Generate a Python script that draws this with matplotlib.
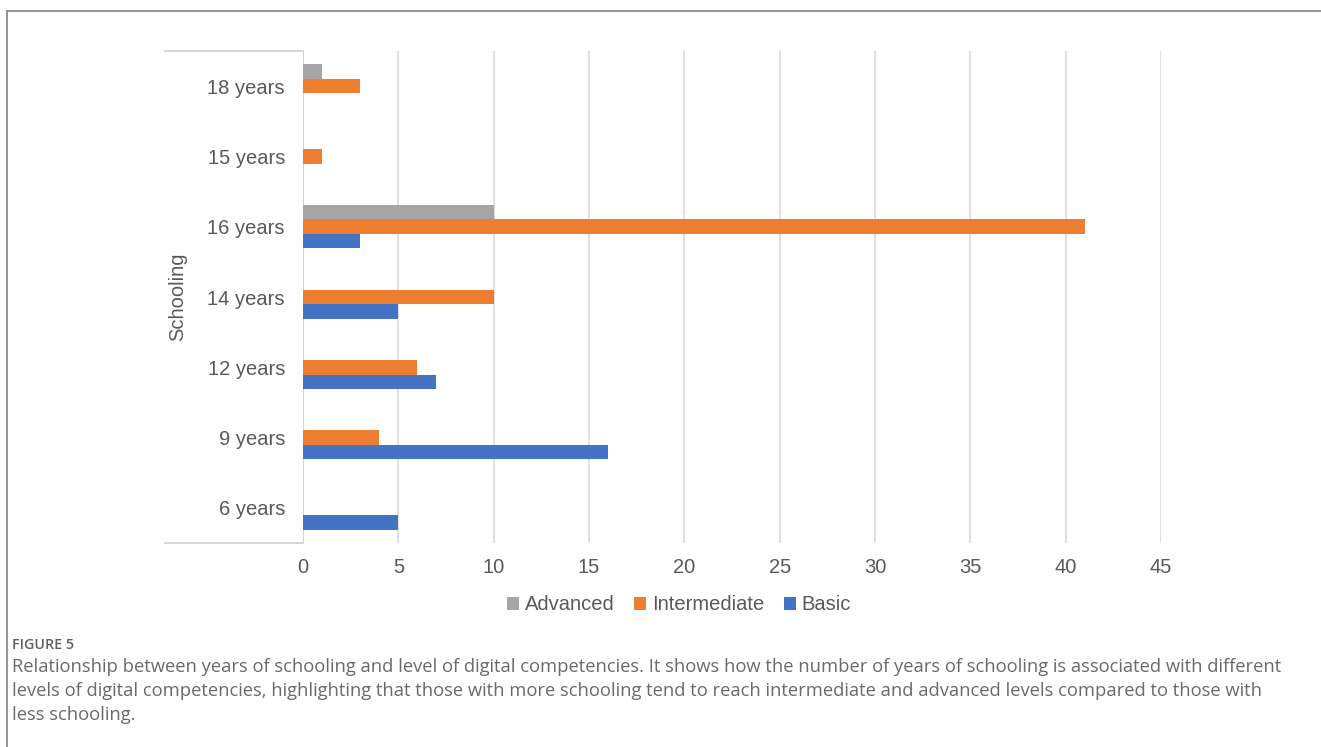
import matplotlib
matplotlib.use("Agg")
import matplotlib.pyplot as plt
from matplotlib.lines import Line2D
from matplotlib.patches import Patch
import numpy as np

# Schooling levels (bottom to top, as drawn)
categories = ["6 years", "9 years", "12 years", "14 years", "16 years", "15 years", "18 years"]
basic = [5, 16, 7, 5, 3, 0, 0]
intermediate = [0, 4, 6, 10, 41, 1, 3]
advanced = [0, 0, 0, 0, 10, 0, 1]
x_ticks = [0, 5, 10, 15, 20, 25, 30, 35, 40, 45]

caption_title = "FIGURE 5"
caption_lines = [
    "Relationship between years of schooling and level of digital competencies. It shows how the number of years of schooling is associated with different",
    "levels of digital competencies, highlighting that those with more schooling tend to reach intermediate and advanced levels compared to those with",
    "less schooling.",
]

W, H = 1321, 747
fig = plt.figure(figsize=(W / 100, H / 100), dpi=100)


def fx(px):
    return px / W


def fy(py):
    return 1 - py / H


C_ADV = "#A5A5A5"
C_INT = "#ED7D31"
C_BAS = "#4472C4"
TXT = "#595959"
GRID = "#D9D9D9"
FS = 14.5

ax = fig.add_axes([fx(303), fy(543), fx(1161) - fx(303), fy(51) - fy(543)])

y = np.arange(len(categories))
h = 0.206
ax.barh(y + h, advanced, height=h, color=C_ADV, linewidth=0, zorder=3, label="Advanced")
ax.barh(y, intermediate, height=h, color=C_INT, linewidth=0, zorder=3, label="Intermediate")
ax.barh(y - h, basic, height=h, color=C_BAS, linewidth=0, zorder=3, label="Basic")

ax.set_xlim(0, 45)
ax.set_ylim(-0.5, len(categories) - 0.5)
ax.set_xticks(x_ticks)
ax.set_yticks(y)
ax.set_yticklabels(categories)
ax.xaxis.grid(True, color=GRID, linewidth=1.2, zorder=0)
ax.set_axisbelow(True)
for s in ax.spines.values():
    s.set_visible(False)
ax.axvline(0, color="#D0D0D0", linewidth=1.2, zorder=2)
ax.tick_params(axis="both", length=0, labelsize=FS, labelcolor=TXT)
ax.tick_params(axis="y", pad=13)
ax.tick_params(axis="x", pad=11)
for lab in ax.get_xticklabels() + ax.get_yticklabels():
    lab.set_fontfamily("Liberation Sans")

# bracket lines around the category label area
for py in (51, 543):
    fig.add_artist(Line2D([fx(165), fx(303)], [fy(py), fy(py)], transform=fig.transFigure,
                          color="#D0D0D0", linewidth=1.2))

fig.text(fx(178), fy(297), "Schooling", rotation=90, ha="center", va="center",
         fontsize=FS, color=TXT, family="Liberation Sans")

handles = [Patch(facecolor=C_ADV, label="Advanced"),
           Patch(facecolor=C_INT, label="Intermediate"),
           Patch(facecolor=C_BAS, label="Basic")]
fig.legend(handles=handles, loc="center", bbox_to_anchor=(fx(679), fy(605)), ncol=3,
           frameon=False, handlelength=0.6, handleheight=0.6, handletextpad=0.3,
           columnspacing=0.95, prop={"family": "Liberation Sans", "size": FS},
           labelcolor=TXT)

# outer frame (top and left edges)
fig.add_artist(Line2D([fx(7), fx(1321)], [fy(11), fy(11)], transform=fig.transFigure,
                      color="#8A8A8A", linewidth=1.3))
fig.add_artist(Line2D([fx(7), fx(7)], [fy(11), fy(747)], transform=fig.transFigure,
                      color="#8A8A8A", linewidth=1.3))

fig.text(fx(12), fy(645), caption_title, ha="left", va="center", fontsize=10.3,
         fontweight="semibold", color="#5F5F5F", family="Open Sans")
for i, line in enumerate(caption_lines):
    fig.text(fx(12), fy(667 + 24 * i), line, ha="left", va="center", fontsize=13.2,
             color="#6A6A6A", family="Open Sans")

fig.savefig("out.png", dpi=100)
